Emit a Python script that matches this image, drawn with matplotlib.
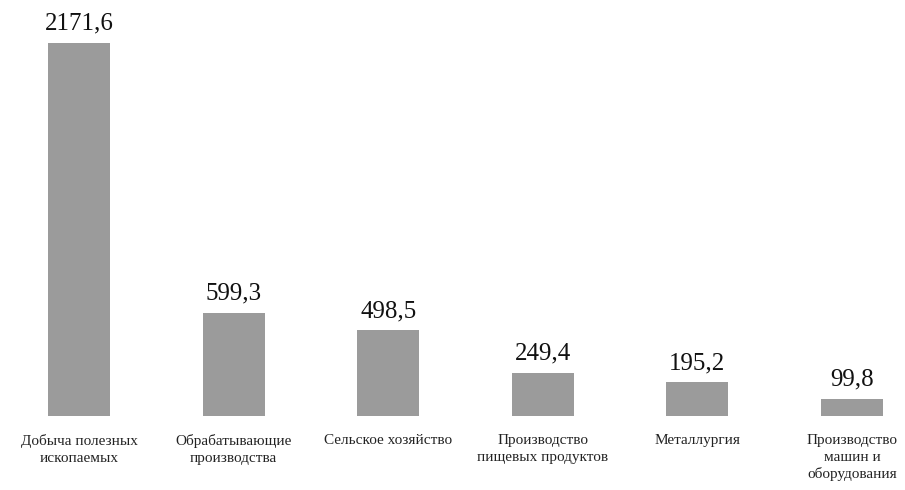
import matplotlib
matplotlib.use("Agg")
import matplotlib.pyplot as plt

categories = ["Добыча полезных\nископаемых", "Обрабатывающие\nпроизводства", "Сельское хозяйство",
              "Производство\nпищевых продуктов", "Металлургия", "Производство\nмашин и\nоборудования"]
values = [2171.6, 599.3, 498.5, 249.4, 195.2, 99.8]
value_labels = ["2171,6", "599,3", "498,5", "249,4", "195,2", "99,8"]

plt.rcParams['font.family'] = ['Liberation Serif', 'DejaVu Serif']

fig = plt.figure(figsize=(9.05, 4.9), dpi=100)
ax = fig.add_axes([0, 74/490, 1, (416-43)/490])
x = list(range(len(categories)))
ax.bar(x, values, width=0.4, color='#9b9b9b')
ax.set_xlim(-0.511, 5.343)
ax.set_ylim(0, 2171.6)
for xi, v, lab in zip(x, values, value_labels):
    ax.annotate(lab, (xi, v), xytext=(0, 6), textcoords='offset points',
                ha='center', va='bottom', fontsize=18, color='#111111')
ax.set_xticks(x)
ax.set_xticklabels(categories, fontsize=11, linespacing=1.35, color='#222222')
ax.tick_params(axis='x', length=0, pad=13)
ax.set_yticks([])
for s in ax.spines.values():
    s.set_visible(False)
fig.savefig("out.png", dpi=100)
